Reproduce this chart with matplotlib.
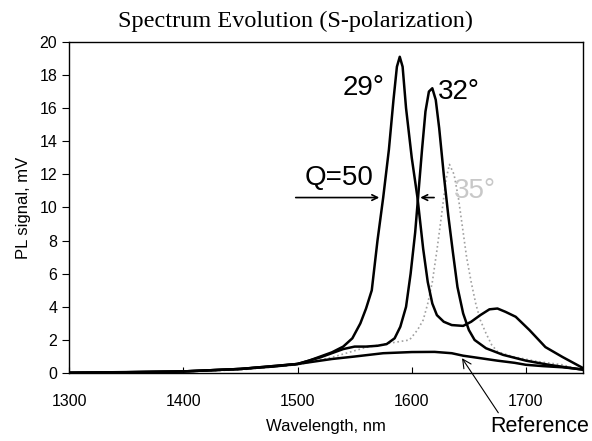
import matplotlib.pyplot as plt

plt.rcParams['font.family'] = ['Liberation Sans', 'DejaVu Sans']

# wavelength (nm) / PL signal (mV)
wl_29 = [1300, 1350, 1400, 1450, 1480, 1500, 1510, 1520, 1530, 1540, 1548, 1555, 1560,
         1565, 1570, 1575, 1580, 1584, 1587, 1589.5, 1592, 1595, 1600, 1605, 1610,
         1614, 1618, 1622, 1628, 1635, 1645, 1652, 1660, 1668, 1675, 1682, 1691,
         1703, 1717, 1732, 1750]
pl_29 = [0.02, 0.05, 0.1, 0.25, 0.4, 0.55, 0.75, 1.0, 1.25, 1.6, 2.1, 3.0, 3.9,
         5.0, 8.0, 10.6, 13.5, 16.5, 18.5, 19.1, 18.5, 16.0, 13.0, 10.6, 7.5,
         5.5, 4.2, 3.5, 3.1, 2.9, 2.85, 3.1, 3.5, 3.85, 3.9, 3.7, 3.4,
         2.6, 1.57, 0.97, 0.3]

wl_32 = [1300, 1400, 1450, 1500, 1520, 1530, 1540, 1550, 1560, 1570, 1578, 1585,
         1590, 1595, 1599, 1603, 1606, 1609, 1612, 1615, 1618, 1621, 1624, 1628,
         1632, 1636, 1640, 1645, 1650, 1655, 1665, 1680, 1700, 1720, 1740, 1750]
pl_32 = [0.02, 0.1, 0.25, 0.55, 0.95, 1.2, 1.45, 1.6, 1.6, 1.65, 1.75, 2.1,
         2.8, 4.0, 6.0, 8.5, 11.0, 13.5, 15.8, 17.0, 17.2, 16.5, 14.8, 12.0,
         9.5, 7.3, 5.2, 3.6, 2.6, 2.0, 1.5, 1.1, 0.75, 0.5, 0.3, 0.2]

wl_35 = [1300, 1400, 1450, 1500, 1530, 1560, 1580, 1598, 1605, 1610, 1614, 1618,
         1622, 1626, 1630, 1633, 1637, 1641, 1645, 1648, 1652, 1656, 1660, 1665,
         1670, 1675, 1688, 1710, 1732, 1750]
pl_35 = [0.02, 0.08, 0.2, 0.5, 0.95, 1.55, 1.8, 2.0, 2.6, 3.2, 4.2, 5.5,
         7.4, 9.5, 11.7, 12.6, 12.0, 10.5, 8.5, 7.0, 5.5, 4.2, 3.2, 2.4,
         1.7, 1.3, 1.0, 0.7, 0.5, 0.15]

wl_ref = [1300, 1350, 1400, 1450, 1500, 1530, 1550, 1575, 1600, 1620, 1635, 1645,
          1660, 1675, 1690, 1700, 1715, 1732, 1750]
pl_ref = [0.02, 0.05, 0.1, 0.25, 0.55, 0.85, 1.0, 1.2, 1.27, 1.28, 1.2, 1.05,
          0.9, 0.75, 0.62, 0.5, 0.42, 0.35, 0.22]

fig = plt.figure(figsize=(5.92, 4.41), dpi=100)
ax = fig.add_axes([0.1166, 0.154, 0.8684, 0.751])

ax.plot(wl_35, pl_35, color='#a0a0a0', lw=1.2, ls=':')
ax.plot(wl_ref, pl_ref, color='black', lw=1.8)
ax.plot(wl_32, pl_32, color='black', lw=1.8)
ax.plot(wl_29, pl_29, color='black', lw=1.8)

ax.set_xlim(1300, 1750)
ax.set_ylim(0, 20)
ax.set_xticks([1300, 1400, 1500, 1600, 1700])
ax.set_yticks(range(0, 21, 2))
ax.tick_params(axis='x', direction='in', length=4, labelsize=11.5, pad=15)
ax.tick_params(axis='y', direction='out', length=5, labelsize=11.5)
for s in ax.spines.values():
    s.set_linewidth(1.0)

ax.set_xlabel('Wavelength, nm', fontsize=12, labelpad=7)
ax.set_ylabel('PL signal, mV', fontsize=12, labelpad=6)
fig.suptitle('Spectrum Evolution (S-polarization)', family='Liberation Serif',
             fontsize=17.5, y=0.975)

ax.text(1558, 17.2, '29°', fontsize=20, ha='center', va='center')
ax.text(1641, 17.0, '32°', fontsize=20, ha='center', va='center')
ax.text(1655, 11.0, '35°', fontsize=20, ha='center', va='center', color='#c8c8c8')
ax.text(1536, 11.8, 'Q=50', fontsize=20, ha='center', va='center')

ax.annotate('', xy=(1574, 10.6), xytext=(1496, 10.6),
            arrowprops=dict(arrowstyle='->', color='black', lw=1.2))
ax.annotate('', xy=(1605, 10.6), xytext=(1622, 10.6),
            arrowprops=dict(arrowstyle='->', color='black', lw=1.2))
ax.annotate('Reference', xy=(1644, 0.9), xytext=(1712, -3.2),
            fontsize=15.5, ha='center', va='center', annotation_clip=False,
            arrowprops=dict(arrowstyle='->', color='black', lw=0.8,
                            shrinkA=0, shrinkB=0, relpos=(0.1, 1.0)))

fig.savefig('out.png', dpi=100)
